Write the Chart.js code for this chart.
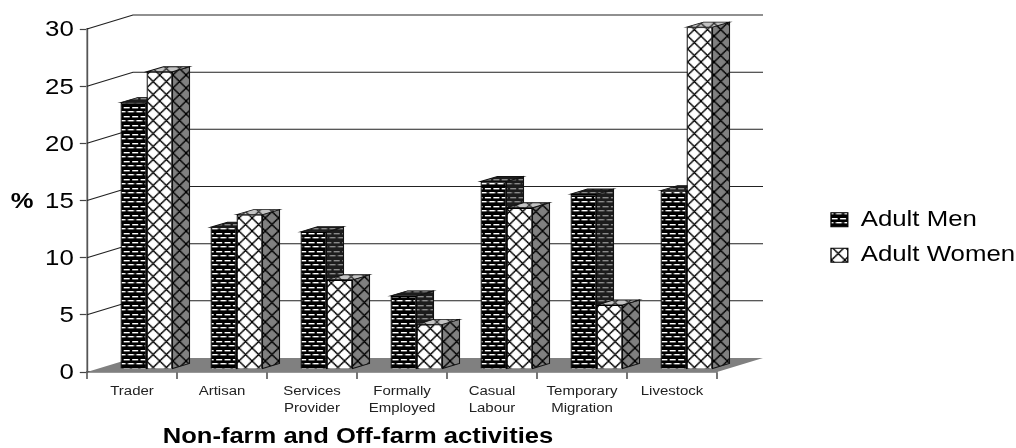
<!DOCTYPE html>
<html>
<head>
<meta charset="utf-8">
<style>
  html, body { margin: 0; padding: 0; background: #fff; }
</style>
<script src="https://cdn.jsdelivr.net/npm/chart.js@4"></script>
</head>
<body>
<canvas id="activityChart" width="1016" height="448"></canvas>
<script>
const categories = ["Trader", "Artisan", ["Services", "Provider"], ["Formally", "Employed"], ["Casual", "Labour"], ["Temporary", "Migration"], "Livestock"];
const adultMen = [23.3, 12.4, 12, 6.4, 16.4, 15.3, 15.6];
const adultWomen = [26, 13.5, 7.8, 3.9, 14.1, 5.6, 29.9];

// the whole chart is drawn wider than tall, text included
const stretchX = 1.2;
// back wall offset and the shift/depth of the bars on the floor
const wallDx = 46 / stretchX, wallDy = 14;
const barShiftX = 14.5 / stretchX, barShiftY = 3;
const barDx = 17 / stretchX, barDy = 5;

function makePattern(w, h, paint) {
    const c = document.createElement("canvas");
    c.width = w;
    c.height = h;
    paint(c.getContext("2d"));
    return document.createElement("canvas").getContext("2d").createPattern(c, "repeat");
}

// staggered dashes on a dark ground
function brick(ground, dash) {
    return makePattern(7, 9, g => {
        g.fillStyle = ground;
        g.fillRect(0, 0, 7, 9);
        g.fillStyle = dash;
        g.fillRect(0, 2, 5, 1.4);
        g.fillRect(3.5, 6, 3.5, 1.4);
        g.fillRect(0, 6, 1.5, 1.4);
    });
}

// diagonal cross hatch
function hatch(ground, ink) {
    return makePattern(11, 13, g => {
        g.fillStyle = ground;
        g.fillRect(0, 0, 11, 13);
        g.strokeStyle = ink;
        g.lineWidth = 1.3;
        g.beginPath();
        g.moveTo(0, 0);
        g.lineTo(11, 13);
        g.moveTo(11, 0);
        g.lineTo(0, 13);
        g.stroke();
    });
}

const menFront = brick("#000000", "#ffffff");
const menDepth = brick("#1c1c1c", "#8a8a8a");
const womenFront = hatch("#ffffff", "#000000");
const womenSide = hatch("#808080", "#000000");
const womenTop = hatch("#c4c4c4", "#333333");

function quad(ctx, pts, fill) {
    ctx.beginPath();
    ctx.moveTo(pts[0][0], pts[0][1]);
    for (let i = 1; i < pts.length; i++) ctx.lineTo(pts[i][0], pts[i][1]);
    ctx.closePath();
    ctx.fillStyle = fill;
    ctx.fill();
    ctx.stroke();
}

// side and top faces of one series
function drawDepth(chart, index, sideFill, topFill) {
    const ctx = chart.ctx;
    ctx.strokeStyle = "#111";
    ctx.lineWidth = 0.9;
    chart.getDatasetMeta(index).data.forEach(bar => {
        const left = bar.x - bar.width / 2, right = bar.x + bar.width / 2;
        quad(ctx, [[right, bar.y], [right + barDx, bar.y - barDy], [right + barDx, bar.base - barDy], [right, bar.base]], sideFill);
        quad(ctx, [[left, bar.y], [left + barDx, bar.y - barDy], [right + barDx, bar.y - barDy], [right, bar.y]], topFill);
    });
}

const box3d = {
    id: "box3d",
    beforeDraw(chart) {
        chart.ctx.save();
        chart.ctx.scale(stretchX, 1);
    },
    afterLayout(chart) {
        // legend sits in the free space right of the plot
        const legend = chart.legend;
        legend.left = 678.5;
        legend.right = 846;
        legend.top = 195;
        legend.bottom = 300;

        // value labels sit a touch lower so the digits centre on their ticks
        const y = chart.scales.y;
        const computeItems = y._computeLabelItems;
        y._computeLabelItems = area => computeItems.call(y, area).map(item => {
            item.options.translation[1] += 1.5;
            return item;
        });
    },
    beforeDatasetsDraw(chart) {
        const ctx = chart.ctx;
        const { left, right } = chart.chartArea;
        const y = chart.scales.y;
        const y0 = y.getPixelForValue(0);

        // floor
        ctx.beginPath();
        ctx.moveTo(left, y0);
        ctx.lineTo(right, y0);
        ctx.lineTo(right + wallDx, y0 - wallDy);
        ctx.lineTo(left + wallDx, y0 - wallDy);
        ctx.closePath();
        ctx.fillStyle = "#808080";
        ctx.fill();

        // side wall and back wall grid lines
        ctx.strokeStyle = "#222";
        ctx.lineWidth = 1;
        y.ticks.forEach(t => {
            const p = y.getPixelForValue(t.value);
            if (t.value === 0) return;
            ctx.beginPath();
            ctx.moveTo(left, p);
            ctx.lineTo(left + wallDx, p - wallDy);
            ctx.lineTo(right + wallDx, p - wallDy);
            ctx.stroke();
        });

        // bars stand a little way back from the front edge
        ctx.save();
        ctx.translate(barShiftX, -barShiftY);
        drawDepth(chart, 0, menDepth, menDepth);
        drawDepth(chart, 1, womenSide, womenTop);
    },
    afterDatasetsDraw(chart) {
        chart.ctx.restore();
    },
    afterDraw(chart) {
        const ctx = chart.ctx;
        ctx.fillStyle = "#000";
        ctx.font = 'bold 21.3px "Liberation Sans"';
        ctx.textAlign = "center";
        ctx.textBaseline = "middle";
        ctx.fillText("%", 18.5, 202);
        ctx.fillText("Non-farm and Off-farm activities", 298.3, 437);
        ctx.restore();
    }
};

new Chart(document.getElementById("activityChart"), {
    type: "bar",
    data: {
        labels: categories,
        datasets: [
            { label: "Adult Men", data: adultMen, backgroundColor: menFront, borderColor: "#000", borderWidth: 1.1, clip: false },
            { label: "Adult Women", data: adultWomen, backgroundColor: womenFront, borderColor: "#000", borderWidth: 1.1, clip: false }
        ]
    },
    options: {
        responsive: false,
        animation: false,
        categoryPercentage: 0.578,
        barPercentage: 1,
        layout: { padding: { top: 29, right: 1016 - 717 / stretchX, bottom: 0, left: 0 } },
        plugins: {
            tooltip: { enabled: false },
            legend: {
                position: "chartArea",
                align: "start",
                labels: {
                    color: "#000",
                    boxWidth: 14,
                    boxHeight: 14,
                    padding: 14,
                    font: { family: "Liberation Sans", size: 21.5 }
                }
            }
        },
        scales: {
            x: {
                afterFit(scale) { scale.height = 448 - 372; },
                grid: { drawOnChartArea: false, tickLength: 7, color: "#444", tickWidth: 1.2 },
                border: { color: "#333", width: 1.4 },
                ticks: {
                    color: "#222",
                    autoSkip: false,
                    maxRotation: 0,
                    minRotation: 0,
                    padding: 4,
                    font: { family: "Liberation Sans", size: 12.5, lineHeight: 1.36 }
                }
            },
            y: {
                min: 0,
                max: 30,
                afterFit(scale) { scale.width = 87 / stretchX; },
                grid: { drawOnChartArea: false, tickLength: 6, color: "#444", tickWidth: 1.2 },
                border: { color: "#555", width: 1.5 },
                ticks: {
                    stepSize: 5,
                    color: "#000",
                    padding: 5,
                    font: { family: "Liberation Sans", size: 21.5 }
                }
            }
        }
    },
    plugins: [box3d]
});
</script>
</body>
</html>
